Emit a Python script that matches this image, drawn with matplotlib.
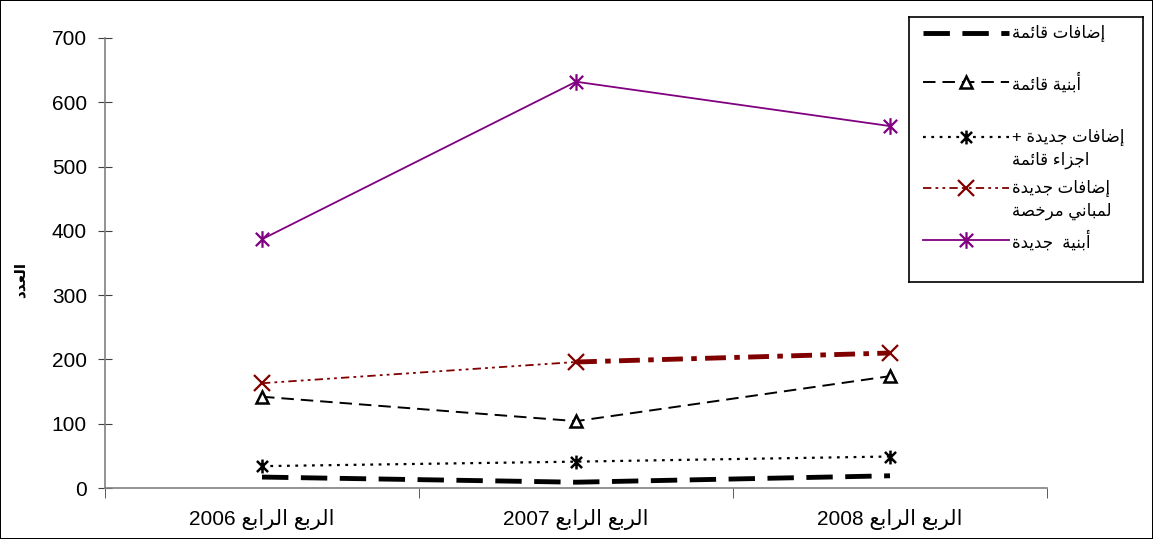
import re
import matplotlib
matplotlib.use("Agg")
import matplotlib.pyplot as plt
from matplotlib.path import Path
from matplotlib.lines import Line2D

plt.rcParams['font.family'] = ['Liberation Sans', 'DejaVu Sans']
plt.rcParams['lines.scale_dashes'] = False

# --- data ---
categories = ["الربع الرابع 2006", "الربع الرابع 2007", "الربع الرابع 2008"]
existing_additions = [17, 9, 19]          # إضافات قائمة
existing_buildings = [142, 104, 174]      # أبنية قائمة
new_additions_parts = [34, 41, 49]        # إضافات جديدة + اجزاء قائمة
new_additions_licensed = [163, 196, 210]  # إضافات جديدة لمباني مرخصة
new_buildings = [387, 632, 563]           # أبنية جديدة
series_labels = ["إضافات قائمة", "أبنية قائمة", "إضافات جديدة +\nاجزاء قائمة",
                 "إضافات جديدة\nلمباني مرخصة", "أبنية  جديدة"]
y_label = "العدد"
y_ticks = [0, 100, 200, 300, 400, 500, 600, 700]

# --- minimal arabic shaping (matplotlib has no bidi/shaping) ---
FORMS = {
    '\u0621': (0xFE80, 'U'), '\u0623': (0xFE83, 'R'), '\u0625': (0xFE87, 'R'),
    '\u0626': (0xFE89, 'D'), '\u0627': (0xFE8D, 'R'), '\u0628': (0xFE8F, 'D'),
    '\u0629': (0xFE93, 'R'), '\u062A': (0xFE95, 'D'), '\u062C': (0xFE9D, 'D'),
    '\u062E': (0xFEA5, 'D'), '\u062F': (0xFEA9, 'R'), '\u0631': (0xFEAD, 'R'),
    '\u0632': (0xFEAF, 'R'), '\u0635': (0xFEB9, 'D'), '\u0636': (0xFEBD, 'D'),
    '\u0639': (0xFEC9, 'D'), '\u0641': (0xFED1, 'D'), '\u0642': (0xFED5, 'D'),
    '\u0644': (0xFEDD, 'D'), '\u0645': (0xFEE1, 'D'), '\u0646': (0xFEE5, 'D'),
    '\u064A': (0xFEF1, 'D'),
}


def shape_line(text):
    out = []
    n = len(text)
    for i, ch in enumerate(text):
        if ch not in FORMS:
            out.append(ch)
            continue
        base, kind = FORMS[ch]
        prev = i > 0 and text[i - 1] in FORMS and FORMS[text[i - 1]][1] == 'D'
        nxt = i + 1 < n and text[i + 1] in FORMS and FORMS[text[i + 1]][1] != 'U'
        if kind == 'U':
            code = base
        elif kind == 'R':
            code = base + 1 if prev else base
        else:
            if prev and nxt:
                code = base + 3
            elif prev:
                code = base + 1
            elif nxt:
                code = base + 2
            else:
                code = base
        out.append(chr(code))
    vis = "".join(out)[::-1]
    return re.sub(r'[0-9A-Za-z.]+', lambda m: m.group(0)[::-1], vis)


def ar(text):
    return "\n".join(shape_line(s) for s in text.split("\n"))


# star marker like excel: vertical bar + X
star = Path([(0, -1), (0, 1), (-0.8, -0.8), (0.8, 0.8), (-0.8, 0.8), (0.8, -0.8)],
            [Path.MOVETO, Path.LINETO, Path.MOVETO, Path.LINETO, Path.MOVETO, Path.LINETO])

DARKRED = "#800000"
PURPLE = "#800080"

styles = [
    dict(color="black", lw=3.5, dashes=(19, 9)),
    dict(color="black", lw=1.4, dashes=(9, 5), marker="^", ms=9, mfc="white", mec="black", mew=1.8),
    dict(color="black", lw=1.6, dashes=(2, 4), marker=star, ms=10, mfc="none", mec="black", mew=1.8),
    dict(color=DARKRED, lw=1.3, dashes=(6, 3, 2, 3, 2, 3), marker="x", ms=11, mec=DARKRED, mew=1.6),
    dict(color=PURPLE, lw=1.3, ls="-", marker=star, ms=12, mfc="none", mec=PURPLE, mew=1.6),
]

fig = plt.figure(figsize=(11.53, 5.39), dpi=100)
fig.patch.set_edgecolor("black")
fig.patch.set_linewidth(1.2)
ax = fig.add_axes([105 / 1153, 51 / 539, 942 / 1153, 450 / 539])

x = list(range(len(categories)))
ax.plot(x, existing_additions, **styles[0])
ax.plot(x, existing_buildings, **styles[1])
ax.plot(x, new_additions_parts, **styles[2])
# red series: thin dash-dot-dot first segment, thick dash-dot second segment
ax.plot(x[:2], new_additions_licensed[:2], color=DARKRED, lw=1.3, dashes=(6, 3, 2, 3, 2, 3))
ax.plot(x[1:], new_additions_licensed[1:], color=DARKRED, lw=3.5, dashes=(15, 6, 4, 6))
ax.plot(x, new_additions_licensed, ls="none", marker="x", ms=11, mec=DARKRED, mew=1.6)
ax.plot(x, new_buildings, **styles[4])

ax.set_xlim(-0.5, 2.5)
ax.set_ylim(0, 700)
ax.set_yticks(y_ticks)
ax.set_xticks(x)
ax.set_xticklabels([ar(c) for c in categories], fontsize=15)
ax.set_xticks([-0.5, 0.5, 1.5, 2.5], minor=True)
ax.tick_params(axis="x", which="major", length=0, pad=15)
ax.tick_params(axis="x", which="minor", length=7, direction="out", color="#404040")
ax.tick_params(axis="y", length=10, direction="inout", color="#404040", labelsize=15, pad=8)
for s in ["top", "right"]:
    ax.spines[s].set_visible(False)
for s in ["left", "bottom"]:
    ax.spines[s].set_color("#808080")
    ax.spines[s].set_linewidth(1.2)
fig.text(20 / 1153, 1 - 280 / 539, ar(y_label), rotation=90, fontsize=11, fontweight="bold",
         ha="center", va="center")

# --- legend drawn by hand to match excel layout ---
lg = fig.add_axes([909 / 1153, 1 - 282 / 539, 234 / 1153, 265 / 539])
lg.set_xlim(0, 234)
lg.set_ylim(265, 0)
lg.set_xticks([])
lg.set_yticks([])
for sp in lg.spines.values():
    sp.set_color("black")
    sp.set_linewidth(1.2)
entry_y = [16, 65, 120, 171, 223]
for i, (label, st) in enumerate(zip(series_labels, styles)):
    yy = entry_y[i]
    st = dict(st)
    marker_kw = {k: st.pop(k) for k in ["marker", "ms", "mfc", "mec", "mew"] if k in st}
    lg.add_line(Line2D([14, 100], [yy, yy], **st))
    if marker_kw:
        lg.add_line(Line2D([57], [yy], ls="none", **marker_kw))
    for k, line in enumerate(label.split("\n")):
        lg.text(103, yy + 23 * k, ar(line), fontsize=12, ha="left", va="center")

fig.savefig("out.png", dpi=100)
